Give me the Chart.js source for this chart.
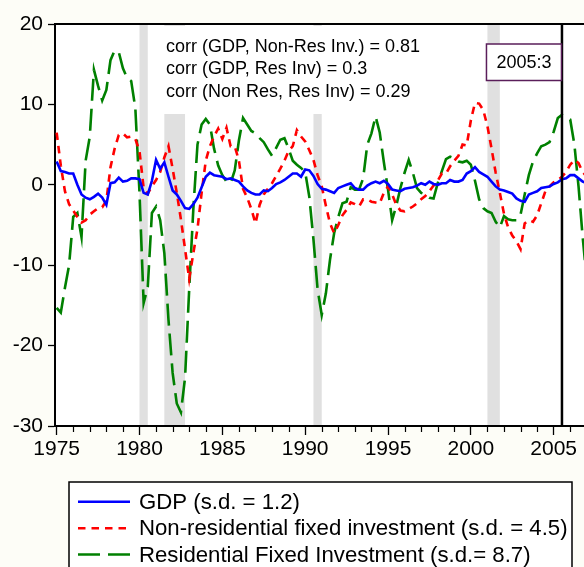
<!DOCTYPE html>
<html>
<head>
<meta charset="utf-8">
<script src="https://cdn.jsdelivr.net/npm/chart.js@4.4.1/dist/chart.umd.min.js"></script>
<style>
html,body{margin:0;padding:0;background:#fdfdf7;overflow:hidden;}
#wrap{width:584px;height:567px;position:relative;}
canvas{display:block;}
</style>
</head>
<body>
<div id="wrap"><canvas id="c" width="584" height="567"></canvas></div>
<script>
// ---- data (quarterly, starting 1975:1) ----
const startYear = 1975;
const gdp = [
  2.9, 1.7, 1.6, 1.4, 1.4, 0.0, -1.2, -1.6, -1.8, -1.5, -1.1, -1.6, -2.5, 0.2, 0.3, 0.9, 0.4, 0.5, 0.8, 0.8, 0.7, -1.0, -1.2, 0.5, 3.1, 2.0, 2.8, 1.0, -0.7, -1.2, -2.0, -2.9, -3.0,
  -2.4, -1.6, -0.3, 1.0, 1.5, 1.2, 1.1, 1.0, 0.7, 0.8, 0.6, 0.4, -0.2, -0.7, -1.0, -1.2, -1.2, -0.7, -0.8, -0.4, 0.1, 0.3, 0.6, 1.0, 1.4, 1.4, 1.0, 1.9, 1.8, 1.1, 0.1,
  -0.5, -0.6, -0.8, -1.0, -0.4, -0.2, 0.0, 0.2, -0.4, -0.6, -0.6, -0.1, 0.2, 0.4, 0.2, 0.5, 0.1, -0.6, -0.7, -0.8, -0.5, -0.4, -0.3, -0.1, 0.2, 0.0, 0.4, 0.1, 0.0, 0.2, 0.2, 0.6,
  0.4, 0.4, 0.6, 1.4, 1.7, 2.2, 1.6, 1.3, 1.0, 0.4, -0.2, -0.6, -0.7, -0.9, -1.1, -1.7, -2.0, -2.1, -1.2, -1.0, -0.8, -0.4, -0.3, -0.2, 0.1, 0.3, 0.7, 0.8, 1.2, 1.2, 0.8, 0.4, 0.2
];
const nonRes = [
  6.5, 2.4, -0.8, -2.4, -3.2, -4.0, -4.7, -4.4, -3.7, -3.3, -2.9, -2.8, -2.0, 2.2, 4.5, 6.2, 6.4, 5.9, 6.0, 5.7, 4.2, -0.4, -1.1, -0.2, 0.6, 1.6, 3.4, 4.8, 2.0, -1.0, -4.3, -8.0, -11.7,
  -8.5, -5.5, -1.0, 3.0, 4.8, 6.0, 7.0, 5.7, 7.1, 4.8, 4.8, 3.0, -0.5, -1.6, -3.0, -4.8, -2.5, -1.2, -0.5, 0.2, 1.1, 2.0, 3.0, 4.2, 4.8, 6.8, 6.0, 5.4, 4.3, 3.1, 1.2,
  -0.2, -2.6, -4.8, -6.0, -5.0, -3.8, -3.1, -2.2, -2.4, -2.7, -1.8, -1.8, -2.1, -2.2, -2.3, -1.0, -0.2, -1.2, -2.5, -3.2, -3.3, -3.0, -2.7, -2.3, -1.8, -1.4, -0.8, -0.1, 0.5, 1.4, 1.4, 2.3,
  3.0, 3.6, 5.0, 4.9, 8.0, 10.2, 10.1, 9.3, 7.3, 4.5, 1.5, -1.0, -3.6, -5.3, -6.3, -7.0, -8.0, -4.8, -4.4, -4.6, -3.8, -2.3, -0.8, -0.2, 0.3, 0.6, 1.0, 1.6, 2.5, 3.1, 2.7, 1.6, 1.0
];
const resInv = [
  -15.3, -15.9, -12.8, -10.0, -4.0, -3.5, -6.5, 3.0, 6.0, 14.3, 12.3, 10.5, 11.8, 15.5, 16.7, 16.5, 14.5, 13.3, 12.9, 9.5, -1.0, -14.7, -12.7, -3.5, -2.7, -4.4, -8.5, -16.8, -23.4, -27.2, -28.3, -24.0, -13.0,
  -3.0, 5.0, 7.5, 8.2, 7.5, 4.5, 2.4, 1.2, 0.4, 0.2, 1.8, 5.5, 8.3, 7.5, 6.7, 6.4, 5.8, 5.3, 4.4, 3.6, 4.6, 5.6, 5.8, 4.5, 3.0, 2.5, 2.1, 1.6, -1.5, -6.8, -13.0,
  -16.2, -13.5, -9.3, -6.0, -4.0, -2.3, -2.1, -0.3, -0.6, -0.6, 0.8, 5.0, 6.4, 8.5, 6.5, 2.8, -0.6, -4.4, -2.6, -0.4, 1.5, 3.1, 1.5, -0.4, -1.0, -1.2, -1.6, -1.7, 0.2, 1.7, 3.2, 3.5,
  3.3, 2.9, 2.8, 3.0, 2.5, 0.5, -1.8, -2.9, -3.3, -3.5, -4.6, -5.3, -3.9, -4.3, -4.4, -4.4, -3.7, -1.2, 1.2, 2.9, 3.9, 4.8, 5.0, 5.3, 6.6, 8.3, 8.7, 8.4, 8.1, 5.0, -0.2, -6.5, -12.0
];
const seriesLabels = [
  "GDP (s.d. = 1.2)",
  "Non-residential fixed investment (s.d. = 4.5)",
  "Residential Fixed Investment (s.d.= 8.7)"
];
const recessions = [[1980.0, 1980.5], [1981.5, 1982.75], [1990.5, 1991.0], [2001.0, 2001.75]];
const corrLines = [
  "corr (GDP, Non-Res Inv.) = 0.81",
  "corr (GDP, Res Inv) = 0.3",
  "corr (Non Res, Res Inv) = 0.29"
];
const markerDate = 2005.5;
const markerLabel = "2005:3";
const yTicks = [-30, -20, -10, 0, 10, 20];
const xTickYears = [];
for (let y = 1975; y <= 2006; y++) xTickYears.push(y);

const FONT = "'Liberation Sans', Arial, Helvetica, sans-serif";
Chart.defaults.font.family = FONT;
Chart.defaults.color = '#000';

const toXY = arr => arr.map((v, i) => ({ x: startYear + i / 4, y: v }));

const decorPlugin = {
  id: 'decor',
  beforeDraw(chart) {
    const { ctx, chartArea: a } = chart;
    ctx.save();
    ctx.fillStyle = '#ffffff';
    ctx.fillRect(a.left, a.top, a.right - a.left, a.bottom - a.top);
    ctx.restore();
  },
  beforeDatasetsDraw(chart) {
    const { ctx, chartArea: a, scales: { x } } = chart;
    ctx.save();
    // recession shading
    ctx.fillStyle = '#e0e0e0';
    recessions.forEach(([s, e]) => {
      const x0 = x.getPixelForValue(s), x1 = x.getPixelForValue(e);
      ctx.fillRect(x0, a.top + 1, x1 - x0, a.bottom - a.top - 2);
    });
    // white box behind correlations
    ctx.fillStyle = '#ffffff';
    ctx.fillRect(156, a.top + 2, 275, 88);
    ctx.restore();
  },
  afterDatasetsDraw(chart) {
    const { ctx, chartArea: a, scales: { x } } = chart;
    ctx.save();
    // vertical marker
    const mx = x.getPixelForValue(markerDate);
    ctx.strokeStyle = '#000';
    ctx.lineWidth = 2.5;
    ctx.beginPath();
    ctx.moveTo(mx, a.top);
    ctx.lineTo(mx, a.bottom);
    ctx.stroke();
    // marker label box
    const bw = 75, bh = 36.5;
    const bx = mx - bw - 0.5, by = a.top + 20;
    ctx.fillStyle = '#fff';
    ctx.fillRect(bx, by, bw, bh);
    ctx.strokeStyle = '#5a1e5a';
    ctx.lineWidth = 1.5;
    ctx.strokeRect(bx, by, bw, bh);
    ctx.fillStyle = '#000';
    ctx.font = '18px ' + FONT;
    ctx.textAlign = 'center';
    ctx.textBaseline = 'middle';
    ctx.fillText(markerLabel, bx + bw / 2, by + bh / 2 + 1);
    // correlation text
    ctx.textAlign = 'left';
    corrLines.forEach((t, i) => ctx.fillText(t, 166, 47 + i * 22.5));
    // top border
    ctx.strokeStyle = '#000';
    ctx.lineWidth = 2;
    ctx.beginPath();
    ctx.moveTo(a.left - 1, a.top);
    ctx.lineTo(a.right, a.top);
    ctx.stroke();
    // minor x ticks
    ctx.lineWidth = 1.2;
    ctx.beginPath();
    xTickYears.forEach(yr => {
      if (yr % 5 !== 0) {
        const px = Math.round(x.getPixelForValue(yr)) + 0.5;
        ctx.moveTo(px, a.bottom);
        ctx.lineTo(px, a.bottom + 6);
      }
    });
    ctx.stroke();
    ctx.restore();
  },
  afterDraw(chart) {
    const { ctx } = chart;
    ctx.save();
    // legend frame
    ctx.fillStyle = '#fff';
    ctx.fillRect(69, 482, 503, 90);
    ctx.strokeStyle = '#000';
    ctx.lineWidth = 1.5;
    ctx.strokeRect(69, 482, 503, 90);
    const rows = [501.7, 528.3, 554.5];
    chart.data.datasets.forEach((ds, i) => {
      const y = rows[i];
      ctx.strokeStyle = ds.borderColor;
      ctx.lineWidth = ds.borderWidth;
      ctx.setLineDash(ds.borderDash || []);
      ctx.beginPath();
      ctx.moveTo(78, y);
      ctx.lineTo(130, y);
      ctx.stroke();
      ctx.setLineDash([]);
      ctx.fillStyle = '#000';
      ctx.font = '22.2px ' + FONT;
      ctx.textAlign = 'left';
      ctx.textBaseline = 'middle';
      ctx.fillText(ds.label, 139, y + 1);
    });
    ctx.restore();
  }
};

new Chart(document.getElementById('c'), {
  type: 'line',
  data: {
    datasets: [
      { label: seriesLabels[0], data: toXY(gdp), borderColor: '#0000ff', borderWidth: 2.6, pointRadius: 0, tension: 0 },
      { label: seriesLabels[1], data: toXY(nonRes), borderColor: '#ff0000', borderWidth: 2.6, borderDash: [7.5, 6], pointRadius: 0, tension: 0 },
      { label: seriesLabels[2], data: toXY(resInv), borderColor: '#008000', borderWidth: 2.6, borderDash: [22, 8], pointRadius: 0, tension: 0 }
    ]
  },
  options: {
    responsive: false,
    animation: false,
    devicePixelRatio: 1,
    layout: { padding: { top: 24, left: 0, right: 0, bottom: 101 } },
    plugins: { legend: { display: false }, tooltip: { enabled: false } },
    scales: {
      x: {
        type: 'linear',
        min: 1974.9,
        max: 2006.83,
        afterBuildTicks: s => { s.ticks = xTickYears.map(v => ({ value: v })); },
        afterFit: s => { s.height = 40; },
        ticks: {
          autoSkip: false, maxRotation: 0, padding: 2,
          font: { size: 21 },
          callback: v => (v % 5 === 0 ? String(v) : '')
        },
        grid: {
          drawOnChartArea: false, drawTicks: true, tickLength: 9,
          tickColor: c => (c.tick && c.tick.value % 5 === 0 ? '#000' : 'rgba(0,0,0,0)'),
          tickWidth: 1.3
        },
        border: { display: true, color: '#000', width: 2 }
      },
      y: {
        min: -30, max: 20,
        afterBuildTicks: s => { s.ticks = yTicks.map(v => ({ value: v })); },
        afterFit: s => { s.width = 55; },
        ticks: { padding: 5, font: { size: 21 } },
        grid: { drawOnChartArea: false, drawTicks: true, tickLength: 7, tickColor: '#000', tickWidth: 1.3 },
        border: { display: true, color: '#000', width: 2 }
      }
    }
  },
  plugins: [decorPlugin]
});
</script>
</body>
</html>
